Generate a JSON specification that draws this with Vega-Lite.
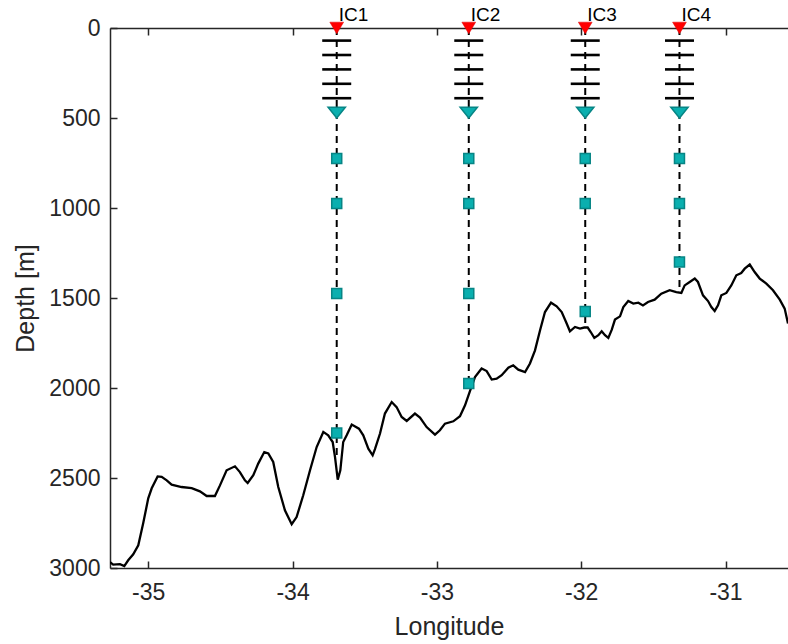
{
  "$schema": "https://vega.github.io/schema/vega-lite/v6.json",
  "width": 678,
  "height": 540,
  "autosize": "none",
  "padding": {"left": 110, "top": 28, "right": 0, "bottom": 76},
  "background": "white",
  "config": {
    "view": {"stroke": null},
    "font": "Liberation Sans",
    "axis": {
      "domainColor": "#262626",
      "domainWidth": 1.5,
      "tickColor": "#262626",
      "tickWidth": 1.5,
      "tickSize": -7,
      "labelColor": "#262626",
      "labelFont": "Liberation Sans",
      "labelFontSize": 23,
      "titleFont": "Liberation Sans",
      "titleFontSize": 25,
      "titleFontWeight": "normal",
      "titleColor": "#262626",
      "grid": false
    }
  },
  "datasets": {
    "bathy": [
      {"lon": -35.265, "depth": 2967}, {"lon": -35.243, "depth": 2981}, {"lon": -35.196, "depth": 2979},
      {"lon": -35.166, "depth": 2989}, {"lon": -35.139, "depth": 2957}, {"lon": -35.104, "depth": 2924},
      {"lon": -35.069, "depth": 2874}, {"lon": -35.035, "depth": 2752}, {"lon": -35.0, "depth": 2613},
      {"lon": -34.976, "depth": 2557}, {"lon": -34.935, "depth": 2491}, {"lon": -34.907, "depth": 2494},
      {"lon": -34.872, "depth": 2513}, {"lon": -34.838, "depth": 2537}, {"lon": -34.769, "depth": 2550},
      {"lon": -34.699, "depth": 2556}, {"lon": -34.642, "depth": 2574}, {"lon": -34.595, "depth": 2600},
      {"lon": -34.538, "depth": 2600}, {"lon": -34.503, "depth": 2541}, {"lon": -34.457, "depth": 2457},
      {"lon": -34.399, "depth": 2435}, {"lon": -34.365, "depth": 2467}, {"lon": -34.33, "depth": 2513},
      {"lon": -34.311, "depth": 2528}, {"lon": -34.272, "depth": 2485}, {"lon": -34.238, "depth": 2420},
      {"lon": -34.196, "depth": 2356}, {"lon": -34.168, "depth": 2364}, {"lon": -34.134, "depth": 2411},
      {"lon": -34.099, "depth": 2550}, {"lon": -34.053, "depth": 2679}, {"lon": -34.006, "depth": 2757},
      {"lon": -33.972, "depth": 2717}, {"lon": -33.926, "depth": 2596}, {"lon": -33.879, "depth": 2457},
      {"lon": -33.833, "depth": 2328}, {"lon": -33.787, "depth": 2244}, {"lon": -33.753, "depth": 2263},
      {"lon": -33.722, "depth": 2300}, {"lon": -33.706, "depth": 2383}, {"lon": -33.687, "depth": 2509},
      {"lon": -33.669, "depth": 2457}, {"lon": -33.649, "depth": 2300}, {"lon": -33.625, "depth": 2263},
      {"lon": -33.59, "depth": 2203}, {"lon": -33.54, "depth": 2226}, {"lon": -33.51, "depth": 2263},
      {"lon": -33.475, "depth": 2337}, {"lon": -33.445, "depth": 2374}, {"lon": -33.429, "depth": 2340},
      {"lon": -33.394, "depth": 2253}, {"lon": -33.36, "depth": 2142}, {"lon": -33.313, "depth": 2078},
      {"lon": -33.279, "depth": 2106}, {"lon": -33.244, "depth": 2161}, {"lon": -33.209, "depth": 2183},
      {"lon": -33.152, "depth": 2142}, {"lon": -33.117, "depth": 2164}, {"lon": -33.071, "depth": 2217},
      {"lon": -33.013, "depth": 2259}, {"lon": -32.979, "depth": 2235}, {"lon": -32.944, "depth": 2198},
      {"lon": -32.886, "depth": 2185}, {"lon": -32.84, "depth": 2157}, {"lon": -32.805, "depth": 2096},
      {"lon": -32.769, "depth": 2013}, {"lon": -32.736, "depth": 1939}, {"lon": -32.69, "depth": 1892},
      {"lon": -32.655, "depth": 1906}, {"lon": -32.62, "depth": 1953}, {"lon": -32.586, "depth": 1948},
      {"lon": -32.551, "depth": 1929}, {"lon": -32.505, "depth": 1887}, {"lon": -32.471, "depth": 1874},
      {"lon": -32.436, "depth": 1898}, {"lon": -32.389, "depth": 1911}, {"lon": -32.355, "depth": 1864},
      {"lon": -32.32, "depth": 1791}, {"lon": -32.285, "depth": 1679}, {"lon": -32.251, "depth": 1578},
      {"lon": -32.209, "depth": 1526}, {"lon": -32.17, "depth": 1546}, {"lon": -32.135, "depth": 1578},
      {"lon": -32.105, "depth": 1633}, {"lon": -32.078, "depth": 1685}, {"lon": -32.043, "depth": 1661},
      {"lon": -32.008, "depth": 1670}, {"lon": -31.979, "depth": 1664}, {"lon": -31.955, "depth": 1664},
      {"lon": -31.934, "depth": 1689}, {"lon": -31.909, "depth": 1722}, {"lon": -31.881, "depth": 1707},
      {"lon": -31.858, "depth": 1685}, {"lon": -31.835, "depth": 1707}, {"lon": -31.812, "depth": 1722},
      {"lon": -31.788, "depth": 1676}, {"lon": -31.766, "depth": 1620}, {"lon": -31.731, "depth": 1602},
      {"lon": -31.708, "depth": 1550}, {"lon": -31.674, "depth": 1517}, {"lon": -31.639, "depth": 1531},
      {"lon": -31.604, "depth": 1526}, {"lon": -31.572, "depth": 1541}, {"lon": -31.537, "depth": 1522},
      {"lon": -31.491, "depth": 1509}, {"lon": -31.445, "depth": 1476}, {"lon": -31.387, "depth": 1457},
      {"lon": -31.341, "depth": 1467}, {"lon": -31.306, "depth": 1472}, {"lon": -31.283, "depth": 1430},
      {"lon": -31.248, "depth": 1411}, {"lon": -31.213, "depth": 1392}, {"lon": -31.191, "depth": 1411},
      {"lon": -31.156, "depth": 1485}, {"lon": -31.121, "depth": 1517}, {"lon": -31.098, "depth": 1550},
      {"lon": -31.075, "depth": 1572}, {"lon": -31.052, "depth": 1541}, {"lon": -31.029, "depth": 1485},
      {"lon": -30.994, "depth": 1472}, {"lon": -30.96, "depth": 1430}, {"lon": -30.925, "depth": 1374},
      {"lon": -30.891, "depth": 1361}, {"lon": -30.867, "depth": 1337}, {"lon": -30.832, "depth": 1314},
      {"lon": -30.798, "depth": 1356}, {"lon": -30.763, "depth": 1392}, {"lon": -30.717, "depth": 1420},
      {"lon": -30.671, "depth": 1457}, {"lon": -30.624, "depth": 1509}, {"lon": -30.59, "depth": 1559},
      {"lon": -30.567, "depth": 1642}
    ],
    "moorings": [
      {"name": "IC1", "lon": -33.694, "top": 0, "bottom": 2390},
      {"name": "IC2", "lon": -32.779, "top": 0, "bottom": 1975},
      {"name": "IC3", "lon": -31.972, "top": 0, "bottom": 1650},
      {"name": "IC4", "lon": -31.319, "top": 0, "bottom": 1470}
    ],
    "bars": [
      {"lon": -33.694, "depth": 70}, {"lon": -33.694, "depth": 150}, {"lon": -33.694, "depth": 230}, {"lon": -33.694, "depth": 310}, {"lon": -33.694, "depth": 390},
      {"lon": -32.779, "depth": 70}, {"lon": -32.779, "depth": 150}, {"lon": -32.779, "depth": 230}, {"lon": -32.779, "depth": 310}, {"lon": -32.779, "depth": 390},
      {"lon": -31.972, "depth": 70}, {"lon": -31.972, "depth": 150}, {"lon": -31.972, "depth": 230}, {"lon": -31.972, "depth": 310}, {"lon": -31.972, "depth": 390},
      {"lon": -31.319, "depth": 70}, {"lon": -31.319, "depth": 150}, {"lon": -31.319, "depth": 230}, {"lon": -31.319, "depth": 310}, {"lon": -31.319, "depth": 390}
    ],
    "adcp": [
      {"lon": -33.694, "depth": 470}, {"lon": -32.779, "depth": 470}, {"lon": -31.972, "depth": 470}, {"lon": -31.319, "depth": 470}
    ],
    "squares": [
      {"lon": -33.694, "depth": 725}, {"lon": -33.694, "depth": 975}, {"lon": -33.694, "depth": 1475}, {"lon": -33.694, "depth": 2250},
      {"lon": -32.779, "depth": 725}, {"lon": -32.779, "depth": 975}, {"lon": -32.779, "depth": 1475}, {"lon": -32.779, "depth": 1975},
      {"lon": -31.972, "depth": 725}, {"lon": -31.972, "depth": 975}, {"lon": -31.972, "depth": 1575},
      {"lon": -31.319, "depth": 725}, {"lon": -31.319, "depth": 975}, {"lon": -31.319, "depth": 1300}
    ]
  },
  "resolve": {"axis": {"x": "independent"}},
  "layer": [
    {
      "data": {"name": "bathy"},
      "mark": {"type": "line", "color": "black", "strokeWidth": 2.3, "clip": true},
      "encoding": {
        "x": {"field": "lon", "type": "quantitative",
              "scale": {"domain": [-35.265, -30.567], "nice": false, "zero": false},
              "axis": {"values": [-35, -34, -33, -32, -31], "title": "Longitude", "labelPadding": 20, "titlePadding": 10, "labelExpr": "toString(datum.value)"}},
        "y": {"field": "depth", "type": "quantitative",
              "scale": {"domain": [0, 3000], "reverse": true, "nice": false, "zero": false},
              "axis": {"values": [0, 500, 1000, 1500, 2000, 2500, 3000], "title": "Depth [m]", "labelPadding": 17, "titlePadding": 10, "labelExpr": "toString(datum.value)"}}
      }
    },
    {
      "data": {"name": "moorings"},
      "mark": {"type": "rule", "color": "black", "strokeWidth": 2, "strokeDash": [7, 5]},
      "encoding": {
        "x": {"field": "lon", "type": "quantitative",
              "axis": {"orient": "top", "values": [-35, -34, -33, -32, -31], "labels": false, "title": null}},
        "y": {"field": "top", "type": "quantitative"},
        "y2": {"field": "bottom"}
      }
    },
    {
      "data": {"name": "bars"},
      "mark": {"type": "tick", "orient": "horizontal", "size": 29, "thickness": 2.6, "color": "black", "opacity": 1},
      "encoding": {
        "x": {"field": "lon", "type": "quantitative", "axis": null},
        "y": {"field": "depth", "type": "quantitative"}
      }
    },
    {
      "data": {"name": "adcp"},
      "mark": {"type": "point", "shape": "M-1,-0.63L1,-0.63L0,0.63Z", "size": 300, "filled": true, "fill": "#0AAFAF", "stroke": "#078585", "strokeWidth": 1.5, "opacity": 1},
      "encoding": {
        "x": {"field": "lon", "type": "quantitative", "axis": null},
        "y": {"field": "depth", "type": "quantitative"}
      }
    },
    {
      "data": {"name": "squares"},
      "mark": {"type": "square", "size": 100, "filled": true, "fill": "#0AAFAF", "stroke": "#078585", "strokeWidth": 1.5, "opacity": 1},
      "encoding": {
        "x": {"field": "lon", "type": "quantitative", "axis": null},
        "y": {"field": "depth", "type": "quantitative"}
      }
    },
    {
      "data": {"name": "moorings"},
      "mark": {"type": "point", "shape": "M-1,-0.85L1,-0.85L0,0.85Z", "size": 190, "filled": true, "fill": "#FF0000", "stroke": "#E00000", "strokeWidth": 0.5, "opacity": 1},
      "encoding": {
        "x": {"field": "lon", "type": "quantitative", "axis": null},
        "y": {"field": "top", "type": "quantitative"}
      }
    },
    {
      "data": {"name": "moorings"},
      "mark": {"type": "text", "align": "left", "baseline": "alphabetic", "dx": 2, "dy": -7, "fontSize": 19, "font": "Liberation Sans", "color": "black"},
      "encoding": {
        "x": {"field": "lon", "type": "quantitative", "axis": null},
        "y": {"field": "top", "type": "quantitative"},
        "text": {"field": "name"}
      }
    }
  ]
}
